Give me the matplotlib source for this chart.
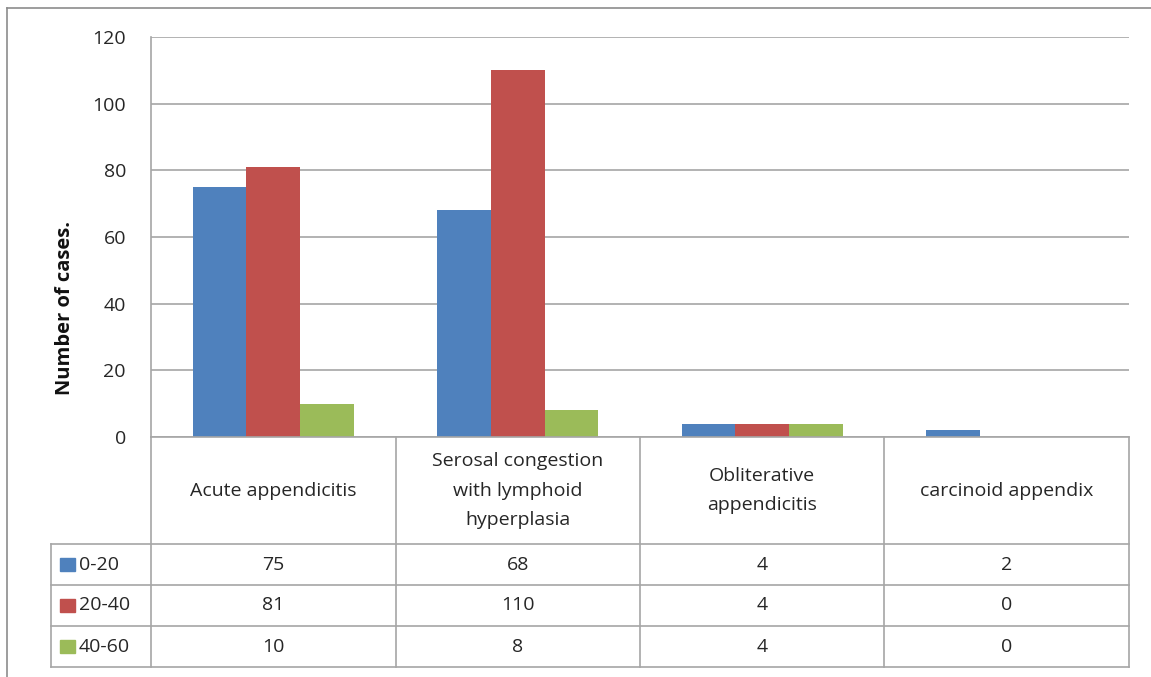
import matplotlib
matplotlib.use("Agg")
import matplotlib.pyplot as plt
from matplotlib.lines import Line2D
from matplotlib.patches import Rectangle
import numpy as np

plt.rcParams['font.family'] = ['Open Sans', 'DejaVu Sans']

categories = ["Acute appendicitis",
              "Serosal congestion\nwith lymphoid\nhyperplasia",
              "Obliterative\nappendicitis",
              "carcinoid appendix"]
series_names = ["0-20", "20-40", "40-60"]
age_0_20 = [75, 68, 4, 2]
age_20_40 = [81, 110, 4, 0]
age_40_60 = [10, 8, 4, 0]
series = [age_0_20, age_20_40, age_40_60]
colors = ["#4F81BD", "#C0504D", "#9BBB59"]
yticks = [0, 20, 40, 60, 80, 100, 120]

W, H = 1151, 677
fig = plt.figure(figsize=(W / 100, H / 100), dpi=100)

def fx(px):
    return px / W

def fy(py):
    return 1 - py / H

grid_c = "#A6A6A6"
txt_c = "#262626"
fs = 14
x0, x1 = 151, 1129
ytop, ybot = 37, 437

ax = fig.add_axes([fx(x0), fy(ybot), fx(x1) - fx(x0), fy(ytop) - fy(ybot)])
n = len(categories)
x = np.arange(n)
bw = 0.22
for i, vals in enumerate(series):
    ax.bar(x + (i - 1) * bw, vals, bw, color=colors[i], zorder=3)
ax.set_xlim(-0.5, n - 0.5)
ax.set_ylim(0, 120)
ax.set_yticks(yticks)
ax.set_yticklabels([str(v) for v in yticks], fontsize=fs, color=txt_c)
ax.tick_params(axis="y", length=0, pad=18)
ax.set_xticks([])
ax.grid(axis="y", color=grid_c, linewidth=1.2, zorder=0)
for s in ["top", "right", "bottom"]:
    ax.spines[s].set_visible(False)
ax.spines["left"].set_color(grid_c)
ax.spines["left"].set_linewidth(1.2)
fig.text(fx(65), fy(308), "Number of cases.", rotation=90, ha="center", va="center",
         fontsize=14.5, fontweight="bold", color="#111111")

# outer chart frame
fig.add_artist(Line2D([fx(7), fx(7)], [fy(8), 0], color="#8C8C8C", lw=1.2))
fig.add_artist(Line2D([fx(7), 1], [fy(8), fy(8)], color="#8C8C8C", lw=1.2))

# data table
cols = [151, 396, 640, 884, 1129]
rows = [437, 544, 585, 626, 667]
leg_x = 51

def hline(xa, xb, y):
    fig.add_artist(Line2D([fx(xa), fx(xb)], [fy(y), fy(y)], color=grid_c, lw=1.2))

def vline(xp, ya, yb):
    fig.add_artist(Line2D([fx(xp), fx(xp)], [fy(ya), fy(yb)], color=grid_c, lw=1.2))

hline(cols[0], cols[-1], rows[0])
for r in rows[1:]:
    hline(leg_x, cols[-1], r)
for c in cols:
    vline(c, rows[0], rows[-1])
vline(leg_x, rows[1], rows[-1])

for j, cat in enumerate(categories):
    cx = (cols[j] + cols[j + 1]) / 2
    cy = (rows[0] + rows[1]) / 2
    fig.text(fx(cx), fy(cy), cat, ha="center", va="center", fontsize=fs,
             color=txt_c, linespacing=1.8)

for i, vals in enumerate(series):
    cy = (rows[i + 1] + rows[i + 2]) / 2
    fig.add_artist(Rectangle((fx(leg_x + 9), fy(cy + 6)), fx(15), fy(0) - fy(13),
                             color=colors[i]))
    fig.text(fx(leg_x + 28), fy(cy), series_names[i], ha="left", va="center",
             fontsize=fs, color=txt_c)
    for j, v in enumerate(vals):
        cx = (cols[j] + cols[j + 1]) / 2
        fig.text(fx(cx), fy(cy), str(v), ha="center", va="center", fontsize=fs,
                 color=txt_c)

fig.savefig("out.png", dpi=100)
